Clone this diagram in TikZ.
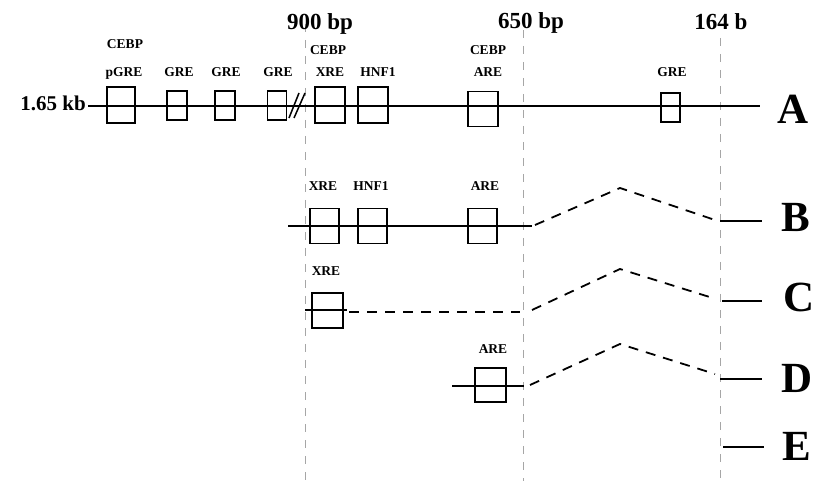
\documentclass[tikz,border=0pt]{standalone}
\usepackage{fontspec}
\setmainfont{Liberation Serif}

\begin{document}
\begin{tikzpicture}[x=1pt, y=-1pt,
    site/.style={draw, line width=1.5pt, inner sep=0pt, minimum width=30pt, minimum height=35pt},
    smallsite/.style={site, minimum width=20pt, minimum height=29pt},
    lbl/.style={font=\fontsize{13.5}{13.5}\selectfont\bfseries, inner sep=0pt, anchor=base},
    bplbl/.style={font=\fontsize{23}{23}\selectfont\bfseries, inner sep=0pt, anchor=base},
    rowname/.style={font=\fontsize{43}{43}\selectfont\bfseries, inner sep=0pt, anchor=base},
    guide/.style={gray!70, line width=0.9pt, dash pattern=on 8pt off 8pt},
    strand/.style={line width=1.8pt},
    gapline/.style={strand, dash pattern=on 10pt off 8pt}]
    \useasboundingbox (0,0) rectangle (820,481);

    \foreach \x/\t/\n in {305/24/g900, 523/30/g650, 720/38/g164} {
        \coordinate (\n-top) at (\x,\t);
        \coordinate (\n-bot) at (\x,481);
        \draw[guide] (\n-top) -- (\n-bot);
    }
    \node[bplbl] (t900) at (320,30) {900 bp};
    \node[bplbl] (t650) at (531,29) {650 bp};
    \node[bplbl] (t164) at (721,30) {164 b};

    % A
    \node[bplbl, anchor=base east, font=\fontsize{21}{21}\selectfont\bfseries] (kb) at (86,111) {1.65 kb};
    \coordinate (a-l) at (88,106);
    \coordinate (a-r) at (760,106);
    \draw[strand] (a-l) -- (a-r);
    \node[site, minimum width=28pt, minimum height=36pt] (a-pgre) at (121,105) {};
    \node[smallsite] (a-gre1) at (177,105.5) {};
    \node[smallsite] (a-gre2) at (225,105.5) {};
    \node[smallsite, minimum width=19pt] (a-gre3) at (277,105.5) {};
    \node[site, minimum height=36pt] (a-xre) at (330,105) {};
    \node[site, minimum height=36pt] (a-hnf) at (373,105) {};
    \node[site] (a-are) at (483,109) {};
    \node[smallsite, minimum width=19pt] (a-gre4) at (670.5,107.5) {};
    \coordinate (cut1-a) at (289,118); \coordinate (cut1-b) at (299,93);
    \coordinate (cut2-a) at (294,118); \coordinate (cut2-b) at (305,93);
    \draw[line width=1.5pt] (cut1-a) -- (cut1-b);
    \draw[line width=1.5pt] (cut2-a) -- (cut2-b);
    \node[lbl] (a-pgre-t1) at (125,49) {CEBP};
    \node[lbl] (a-pgre-t2) at (124,77) {pGRE};
    \node[lbl] (a-gre1-t) at (179,77) {GRE};
    \node[lbl] (a-gre2-t) at (226,77) {GRE};
    \node[lbl] (a-gre3-t) at (278,77) {GRE};
    \node[lbl] (a-xre-t1) at (328,55) {CEBP};
    \node[lbl] (a-xre-t2) at (330,77) {XRE};
    \node[lbl] (a-hnf-t) at (378,77) {HNF1};
    \node[lbl] (a-are-t1) at (488,55) {CEBP};
    \node[lbl] (a-are-t2) at (488,77) {ARE};
    \node[lbl] (a-gre4-t) at (672,77) {GRE};
    \node[rowname] (rowA) at (793,124) {A};

    % B
    \coordinate (b-l) at (288,226);
    \coordinate (b-r) at (532,226);
    \coordinate (b-d) at (535,225);
    \coordinate (b-pk) at (620,188);
    \coordinate (b-j) at (718,221);
    \coordinate (b-e1) at (720,221);
    \coordinate (b-e2) at (762,221);
    \draw[strand] (b-l) -- (b-r);
    \draw[gapline] (b-d) -- (b-pk) -- (b-j);
    \draw[strand] (b-e1) -- (b-e2);
    \node[site, minimum width=29pt] (b-xre) at (324.5,226) {};
    \node[site, minimum width=29pt] (b-hnf) at (372.5,226) {};
    \node[site, minimum width=29pt] (b-are) at (482.5,226) {};
    \node[lbl] (b-xre-t) at (323,191) {XRE};
    \node[lbl] (b-hnf-t) at (371,191) {HNF1};
    \node[lbl] (b-are-t) at (485,191) {ARE};
    \node[rowname] (rowB) at (796,232) {B};

    % C
    \coordinate (c-l) at (305,310);
    \coordinate (c-m) at (347,310);
    \coordinate (c-d) at (349,312);
    \coordinate (c-k) at (520,312);
    \coordinate (c-s) at (532,310);
    \coordinate (c-pk) at (620,269);
    \coordinate (c-j) at (716,299);
    \coordinate (c-e1) at (722,301);
    \coordinate (c-e2) at (762,301);
    \draw[strand] (c-l) -- (c-m);
    \draw[gapline] (c-d) -- (c-k);
    \draw[gapline] (c-s) -- (c-pk) -- (c-j);
    \draw[strand] (c-e1) -- (c-e2);
    \node[site, minimum width=31pt] (c-xre) at (327.5,310.5) {};
    \node[lbl] (c-xre-t) at (326,276) {XRE};
    \node[rowname] (rowC) at (799,312) {C};

    % D
    \coordinate (d-l) at (452,386);
    \coordinate (d-r) at (524,386);
    \coordinate (d-d) at (530,385);
    \coordinate (d-pk) at (620,344);
    \coordinate (d-j) at (715,374);
    \coordinate (d-e1) at (720,379);
    \coordinate (d-e2) at (762,379);
    \draw[strand] (d-l) -- (d-r);
    \draw[gapline] (d-d) -- (d-pk) -- (d-j);
    \draw[strand] (d-e1) -- (d-e2);
    \node[site, minimum width=31pt, minimum height=34pt] (d-are) at (490.5,385) {};
    \node[lbl] (d-are-t) at (493,353) {ARE};
    \node[rowname] (rowD) at (797,392) {D};

    % E
    \coordinate (e-e1) at (723,447);
    \coordinate (e-e2) at (764,447);
    \draw[strand] (e-e1) -- (e-e2);
    \node[rowname] (rowE) at (797,460) {E};
\end{tikzpicture}
\end{document}
